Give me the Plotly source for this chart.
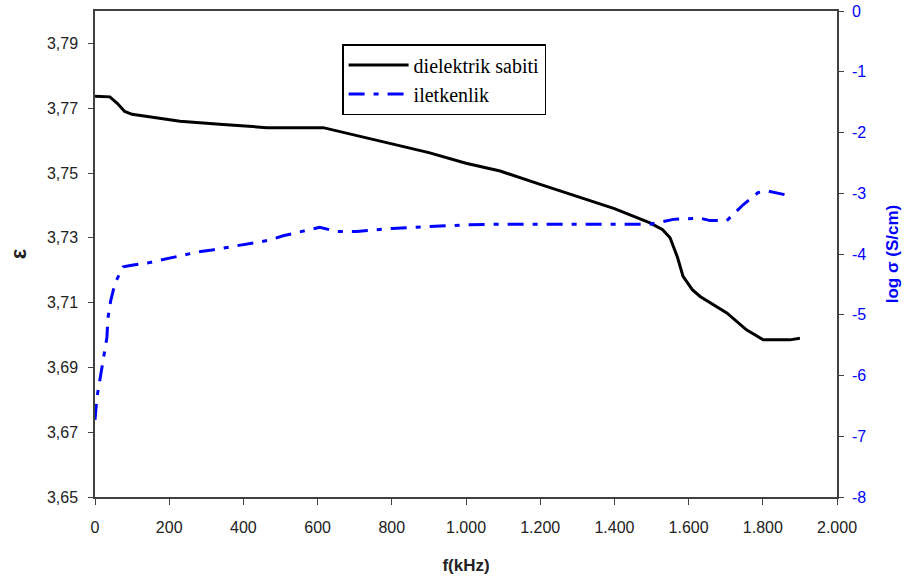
import plotly.graph_objects as go

# Dielectric constant (left axis)
f_eps = [0, 40, 60, 80, 100, 148, 229, 345, 463, 615, 706, 795, 900, 1000, 1092, 1200, 1271, 1400, 1496, 1530, 1550, 1570, 1585, 1610, 1631, 1703, 1756, 1801, 1873, 1900]
eps = [3.7737, 3.7735, 3.7715, 3.7690, 3.7681, 3.7673, 3.7660, 3.7650, 3.7640, 3.7640, 3.7616, 3.7593, 3.7563, 3.7530, 3.7506, 3.7465, 3.7439, 3.7390, 3.7346, 3.7325, 3.7300, 3.7240, 3.7181, 3.7140, 3.7119, 3.7068, 3.7016, 3.6985, 3.6985, 3.6990]

# Conductivity log sigma (right axis)
f_sig = [0, 5, 14, 27, 32, 35, 42, 54, 76, 103, 148, 207, 274, 310, 364, 436, 472, 507, 553, 606, 651, 705, 759, 800, 900, 1000, 1092, 1300, 1496, 1559, 1631, 1658, 1703, 1747, 1787, 1810, 1864]
logsig = [-6.73, -6.37, -6.04, -5.58, -5.38, -5.05, -4.78, -4.48, -4.21, -4.18, -4.14, -4.06, -3.97, -3.94, -3.88, -3.81, -3.77, -3.70, -3.64, -3.56, -3.63, -3.63, -3.60, -3.58, -3.55, -3.52, -3.51, -3.51, -3.51, -3.43, -3.41, -3.45, -3.45, -3.19, -2.99, -2.96, -3.03]

x_ticks = [0, 200, 400, 600, 800, 1000, 1200, 1400, 1600, 1800, 2000]
x_ticktext = ["0", "200", "400", "600", "800", "1.000", "1.200", "1.400", "1.600", "1.800", "2.000"]
y_ticks = [3.65, 3.67, 3.69, 3.71, 3.73, 3.75, 3.77, 3.79]
y_ticktext = ["3,65", "3,67", "3,69", "3,71", "3,73", "3,75", "3,77", "3,79"]
y2_ticks = [0, -1, -2, -3, -4, -5, -6, -7, -8]
y2_ticktext = ["0", "-1", "-2", "-3", "-4", "-5", "-6", "-7", "-8"]

axis_col = "#404040"
tick_font = dict(family="Liberation Sans, Arial", size=16, color="#222222")
blue = "#0000ff"

fig = go.Figure()
fig.add_trace(go.Scatter(x=f_eps, y=eps, mode="lines", name="dielektrik sabiti",
                         line=dict(color="black", width=3), yaxis="y"))
fig.add_trace(go.Scatter(x=f_sig, y=logsig, mode="lines", name="iletkenlik",
                         line=dict(color=blue, width=3, dash="16px,9px,5px,9px"), yaxis="y2"))

fig.update_layout(
    width=907, height=585,
    margin=dict(l=95, r=70, t=11, b=88),
    paper_bgcolor="white", plot_bgcolor="white",
    showlegend=True,
    legend=dict(x=0.333, y=0.932, xanchor="left", yanchor="top",
                bordercolor="black", borderwidth=1.5, bgcolor="white",
                font=dict(family="Liberation Serif, Times New Roman", size=20, color="black"),
                itemwidth=60, tracegroupgap=0),
    xaxis=dict(range=[0, 2000], tickvals=x_ticks, ticktext=x_ticktext, automargin=False,
               showgrid=False, zeroline=False, showline=True, linecolor=axis_col, linewidth=1.5,
               mirror=True, ticks="outside", ticklen=6, tickcolor=axis_col, tickfont=tick_font,
               ticklabelstandoff=9,
               title=dict(text="<b>f(kHz)</b>", font=dict(family="Liberation Sans, Arial", size=17, color="#222222"), standoff=24)),
    yaxis=dict(range=[3.65, 3.80], tickvals=y_ticks, ticktext=y_ticktext, automargin=False,
               showgrid=False, zeroline=False, showline=True, linecolor=axis_col, linewidth=1.5,
               ticks="outside", ticklen=5, tickcolor=axis_col, tickfont=tick_font,
               ticklabelstandoff=7,
               title=dict(text="<b>ε</b>", font=dict(family="Liberation Sans, Arial", size=22, color="#222222"), standoff=14)),
    yaxis2=dict(range=[-8, 0], tickvals=y2_ticks, ticktext=y2_ticktext, overlaying="y", side="right",
                automargin=False,
                showgrid=False, zeroline=False, showline=True, linecolor=axis_col, linewidth=1.5,
                ticks="outside", ticklen=5, tickcolor=axis_col,
                ticklabelstandoff=5,
                tickfont=dict(family="Liberation Sans, Arial", size=16, color=blue),
                title=dict(text="<b>log σ (S/cm)</b>", font=dict(family="Liberation Sans, Arial", size=17, color=blue), standoff=21)),
)

fig.write_html("out.html", config={"displayModeBar": False},
               post_script="document.body.style.margin='0';")
